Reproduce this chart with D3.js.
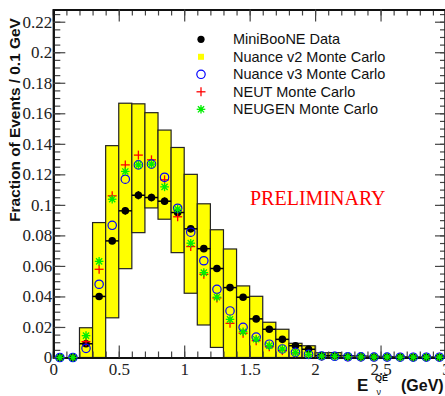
<!DOCTYPE html>
<html>
<head>
<meta charset="utf-8">
<script src="https://cdn.jsdelivr.net/npm/d3@7"></script>
<style>
  body { margin: 0; background: #fff; }
  svg { display: block; }
</style>
</head>
<body>
<div id="chart"></div>
<script>
// bin centres, 0.1 GeV wide
var binCenters = d3.range(30).map(function (i) { return +(0.05 + i * 0.1).toFixed(2); });

// MiniBooNE data + stat errors
var dataVals = [0, 0, 0.009, 0.040, 0.0764, 0.0961, 0.1063, 0.1048, 0.1024, 0.095,
  0.0843, 0.0713, 0.0583, 0.0458, 0.0395, 0.0253, 0.0185, 0.0119, 0.0077, 0.0054,
  0.0012, 0.0012, 0.0005, 0.0004, 0.0003, 0.0003, 0.0003, 0.0002, 0.0002, 0.0002];
var dataErr = [0, 0, 0.001, 0.0015, 0.002, 0.0025, 0.0027, 0.0025, 0.0025, 0.0025,
  0.002, 0.002, 0.002, 0.002, 0.0015, 0.0015, 0.0015, 0.0012, 0.001, 0.001,
  0.0005, 0.0005, 0, 0, 0, 0, 0, 0, 0, 0];

// Nuance v2 band (low / high edge of each yellow box)
var nuanceV2Low = [0, 0, 0, 0, 0.026, 0.0582, 0.0818, 0.098, 0.0906, 0.0687,
  0.0421, 0.0213, 0.0066, 0, 0, 0, 0, 0, 0, 0,
  0, 0, 0, 0, 0, 0, 0, 0, 0, 0];
var nuanceV2High = [0, 0, 0.0195, 0.0884, 0.1388, 0.1666, 0.1662, 0.1604, 0.149, 0.1376,
  0.120, 0.1007, 0.0837, 0.0711, 0.0469, 0.0401, 0.0231, 0.0185, 0.0093, 0.0077,
  0.0031, 0.0032, 0.0012, 0.001, 0.0008, 0.0006, 0.0005, 0.0004, 0.0004, 0.0003];

var nuanceV3 = [0, 0, 0.006, 0.048, 0.0866, 0.1168, 0.1262, 0.1267, 0.1181, 0.0978,
  0.0821, 0.0634, 0.0447, 0.0305, 0.0198, 0.0134, 0.0087, 0.0056, 0.0034, 0.0021,
  0.001, 0.0008, 0.0005, 0.0004, 0.0003, 0.0003, 0.0002, 0.0002, 0.0002, 0.0002];
var neut = [0, 0, 0.0104, 0.0578, 0.1059, 0.1262, 0.1326, 0.1295, 0.1164, 0.0922,
  0.0727, 0.0545, 0.039, 0.0224, 0.0159, 0.011, 0.007, 0.0045, 0.003, 0.0018,
  0.0008, 0.0006, 0.0004, 0.0003, 0.0003, 0.0002, 0.0002, 0.0002, 0.0002, 0.0002];
var neugen = [0, 0, 0.0143, 0.063, 0.1037, 0.1219, 0.1262, 0.1267, 0.1118, 0.0972,
  0.0749, 0.0556, 0.0395, 0.025, 0.0169, 0.012, 0.0078, 0.0055, 0.0032, 0.002,
  0.001, 0.0008, 0.0005, 0.0004, 0.0003, 0.0003, 0.0002, 0.0002, 0.0002, 0.0002];

var xTicks = [0, 0.5, 1, 1.5, 2, 2.5, 3];
var yTicks = [0, 0.02, 0.04, 0.06, 0.08, 0.1, 0.12, 0.14, 0.16, 0.18, 0.2, 0.22];
var legendLabels = ["MiniBooNE Data", "Nuance v2 Monte Carlo", "Nuance v3 Monte Carlo",
  "NEUT Monte Carlo", "NEUGEN Monte Carlo"];

var W = 445, H = 396;
var plotLeft = 53.3, plotRight = 446, plotTop = 9.5, plotBottom = 357.5;

var svg = d3.select("#chart").append("svg")
  .attr("width", W)
  .attr("height", H);

var x = d3.scaleLinear().domain([0, 3]).range([plotLeft, plotRight]);
var y = d3.scaleLinear().domain([0, 0.228]).range([plotBottom, plotTop]);
var halfBin = 0.05;

// yellow boxes (Nuance v2 band)
var boxes = binCenters.map(function (c, i) {
  return {c: c, lo: nuanceV2Low[i], hi: nuanceV2High[i]};
}).filter(function (b) { return b.hi > 0; });

svg.append("g").selectAll("rect")
  .data(boxes)
  .enter().append("rect")
  .attr("x", function (b) { return x(b.c - halfBin); })
  .attr("width", function (b) { return x(b.c + halfBin) - x(b.c - halfBin); })
  .attr("y", function (b) { return y(b.hi); })
  .attr("height", function (b) { return y(b.lo) - y(b.hi); })
  .style("fill", "#ffff00")
  .style("stroke", "#222")
  .style("stroke-width", 1.2);

// axes (ticks inward)
var tickColor = "#444";
function minorVals(step, max) {
  return d3.range(0, max + 1e-9, step).map(function (v) { return +v.toFixed(4); });
}
var xMinor = minorVals(0.1, 3);
var yMinor = minorVals(0.005, 0.225);

function styleAxis(g) {
  g.selectAll(".tick line").style("stroke", tickColor).style("stroke-width", 1.2);
  g.select(".domain").style("stroke", "#111").style("stroke-width", 2);
  g.selectAll("text")
    .style("font-family", "'Liberation Serif', 'Times New Roman', serif")
    .style("font-size", "17px")
    .style("fill", "#222");
}

svg.append("g").attr("transform", "translate(0," + plotBottom + ")")
  .call(d3.axisBottom(x).tickValues(xMinor).tickSize(-6).tickFormat(""))
  .call(styleAxis);
svg.append("g").attr("transform", "translate(0," + plotBottom + ")")
  .call(d3.axisBottom(x).tickValues(xTicks).tickSizeInner(-12).tickSizeOuter(0).tickPadding(5)
    .tickFormat(d3.format("~g")))
  .call(styleAxis);

svg.append("g").attr("transform", "translate(0," + plotTop + ")")
  .call(d3.axisTop(x).tickValues(xMinor).tickSize(-6).tickFormat(""))
  .call(styleAxis);
svg.append("g").attr("transform", "translate(0," + plotTop + ")")
  .call(d3.axisTop(x).tickValues(xTicks).tickSize(-12).tickFormat(""))
  .call(styleAxis);

svg.append("g").attr("transform", "translate(" + plotLeft + ",0)")
  .call(d3.axisLeft(y).tickValues(yMinor).tickSize(-7).tickFormat(""))
  .call(styleAxis);
svg.append("g").attr("transform", "translate(" + plotLeft + ",0)")
  .call(d3.axisLeft(y).tickValues(yTicks).tickSizeInner(-12).tickSizeOuter(0).tickPadding(1)
    .tickFormat(d3.format("~g")))
  .call(styleAxis);

svg.append("g").attr("transform", "translate(" + (plotRight - 1) + ",0)")
  .call(d3.axisRight(y).tickValues(yMinor).tickSize(-5).tickFormat(""))
  .call(styleAxis);
svg.append("g").attr("transform", "translate(" + (plotRight - 1) + ",0)")
  .call(d3.axisRight(y).tickValues(yTicks).tickSize(-10).tickFormat(""))
  .call(styleAxis);

// markers
var pts = binCenters.map(function (c, i) {
  return {c: c, d: dataVals[i], e: dataErr[i], v3: nuanceV3[i], neut: neut[i], neugen: neugen[i]};
});

var dataG = svg.append("g");
dataG.selectAll("line.h").data(pts.filter(function (p) { return p.d > 0.001; }))
  .enter().append("line")
  .attr("x1", function (p) { return x(p.c - halfBin); })
  .attr("x2", function (p) { return x(p.c + halfBin); })
  .attr("y1", function (p) { return y(p.d); })
  .attr("y2", function (p) { return y(p.d); })
  .style("stroke", "#000").style("stroke-width", 1.5);
dataG.selectAll("line.v").data(pts.filter(function (p) { return p.e > 0; }))
  .enter().append("line")
  .attr("x1", function (p) { return x(p.c); })
  .attr("x2", function (p) { return x(p.c); })
  .attr("y1", function (p) { return y(p.d - p.e); })
  .attr("y2", function (p) { return y(p.d + p.e); })
  .style("stroke", "#000").style("stroke-width", 1.5);
dataG.selectAll("circle").data(pts)
  .enter().append("circle")
  .attr("cx", function (p) { return x(p.c); })
  .attr("cy", function (p) { return y(p.d); })
  .attr("r", 3.8)
  .style("fill", "#000");

function plus(g, cx, cy, s, color) {
  g.append("line").attr("x1", cx - s).attr("x2", cx + s).attr("y1", cy).attr("y2", cy)
    .style("stroke", color).style("stroke-width", 1.3);
  g.append("line").attr("x1", cx).attr("x2", cx).attr("y1", cy - s).attr("y2", cy + s)
    .style("stroke", color).style("stroke-width", 1.3);
}
function star(g, cx, cy, s, color) {
  plus(g, cx, cy, s, color);
  var k = s * 0.72;
  g.append("line").attr("x1", cx - k).attr("x2", cx + k).attr("y1", cy - k).attr("y2", cy + k)
    .style("stroke", color).style("stroke-width", 1.3);
  g.append("line").attr("x1", cx - k).attr("x2", cx + k).attr("y1", cy + k).attr("y2", cy - k)
    .style("stroke", color).style("stroke-width", 1.3);
  g.append("circle").attr("cx", cx).attr("cy", cy).attr("r", 2).style("fill", color);
}

var neutG = svg.append("g");
pts.forEach(function (p) { plus(neutG, x(p.c), y(p.neut), 4.5, "#ff0000"); });

svg.append("g").selectAll("circle").data(pts)
  .enter().append("circle")
  .attr("cx", function (p) { return x(p.c); })
  .attr("cy", function (p) { return y(p.v3); })
  .attr("r", 4.2)
  .style("fill", "none")
  .style("stroke", "#0000ff")
  .style("stroke-width", 1.2);

var neugenG = svg.append("g");
pts.forEach(function (p) { star(neugenG, x(p.c), y(p.neugen), 4.3, "#00ee00"); });

// legend
var leg = svg.append("g");
var legX = 201, legTextX = 233, legY0 = 39.3, legDy = 17.5;
legendLabels.forEach(function (t, i) {
  var cy = legY0 + i * legDy;
  if (i === 0) leg.append("circle").attr("cx", legX).attr("cy", cy).attr("r", 3.6).style("fill", "#000");
  if (i === 1) leg.append("rect").attr("x", legX - 3).attr("y", cy - 3).attr("width", 6).attr("height", 6).style("fill", "#ffff00");
  if (i === 2) leg.append("circle").attr("cx", legX).attr("cy", cy).attr("r", 4.2)
    .style("fill", "none").style("stroke", "#0000ff").style("stroke-width", 1.2);
  if (i === 3) plus(leg, legX, cy, 4.5, "#ff0000");
  if (i === 4) star(leg, legX, cy, 4.3, "#00ee00");
  leg.append("text")
    .attr("x", legTextX).attr("y", cy + 5)
    .style("font-family", "'Liberation Sans', Arial, sans-serif")
    .style("font-size", "14.5px")
    .style("fill", "#111")
    .text(t);
});

// PRELIMINARY
svg.append("text")
  .attr("x", 250).attr("y", 205)
  .style("font-family", "'Liberation Serif', 'Times New Roman', serif")
  .style("font-size", "20px")
  .style("fill", "#ff0000")
  .text("PRELIMINARY");

// y title
svg.append("text")
  .attr("transform", "translate(20,120) rotate(-90)")
  .attr("text-anchor", "middle")
  .style("font-family", "'Liberation Sans', Arial, sans-serif")
  .style("font-weight", "bold")
  .style("font-size", "15.4px")
  .style("fill", "#111")
  .text("Fraction of Events / 0.1 GeV");

// x title
var xt = svg.append("g")
  .style("font-family", "'Liberation Sans', Arial, sans-serif")
  .style("font-weight", "bold")
  .style("fill", "#111");
xt.append("text").attr("x", 357).attr("y", 391).style("font-size", "17px").text("E");
xt.append("text").attr("x", 375).attr("y", 381).style("font-size", "9px").text("QE");
xt.append("text").attr("x", 376.5).attr("y", 395).style("font-size", "9px").style("font-weight", "normal").text("ν");
xt.append("text").attr("x", 401).attr("y", 391).style("font-size", "16px").text("(GeV)");
</script>
</body>
</html>
